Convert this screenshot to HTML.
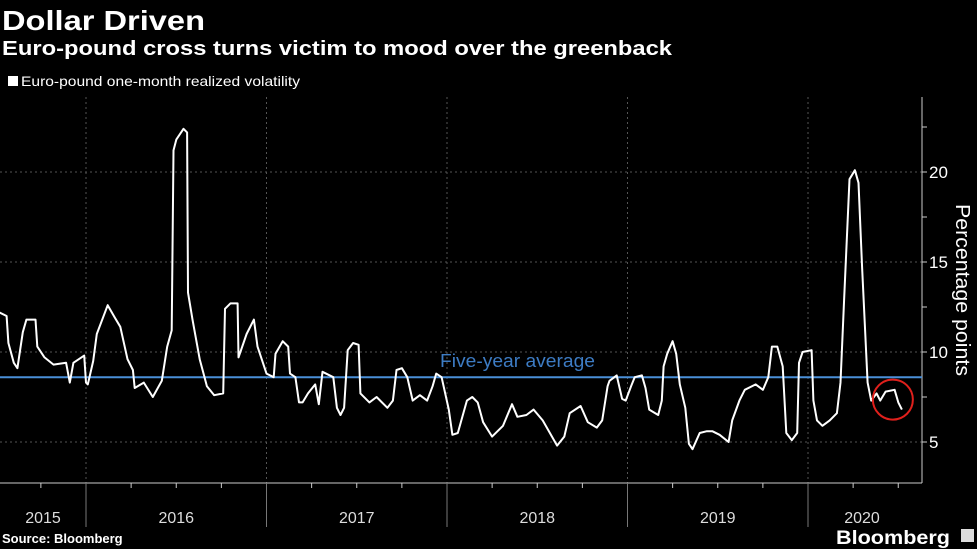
<!DOCTYPE html>
<html><head><meta charset="utf-8"><style>
html,body{margin:0;padding:0;background:#000;}
svg{display:block;font-family:"Liberation Sans","DejaVu Sans",sans-serif;}
</style></head><body>
<svg id="chart" width="977" height="549" viewBox="0 0 977 549" xmlns="http://www.w3.org/2000/svg">
<rect width="977" height="549" fill="#000"/>
<text x="2" y="30" fill="#fff" font-size="28" font-weight="bold" textLength="203" lengthAdjust="spacingAndGlyphs">Dollar Driven</text>
<text x="2" y="55" fill="#fff" font-size="20" font-weight="bold" textLength="670" lengthAdjust="spacingAndGlyphs">Euro-pound cross turns victim to mood over the greenback</text>
<rect x="8" y="76" width="10" height="10" fill="#fff"/>
<text x="21" y="86" fill="#fff" font-size="14" textLength="279" lengthAdjust="spacingAndGlyphs">Euro-pound one-month realized volatility</text>
<g id="grid"></g>
<g id="axes"></g>
<g id="series"></g>
<text transform="translate(956,290) rotate(90)" text-anchor="middle" fill="#fff" font-size="20" textLength="172" lengthAdjust="spacingAndGlyphs">Percentage points</text>
<text x="2" y="543" fill="#fff" font-size="13" font-weight="bold">Source: Bloomberg</text>
<text x="836" y="544" fill="#fff" font-size="19" font-weight="bold" textLength="114" lengthAdjust="spacingAndGlyphs">Bloomberg</text>
<rect x="961" y="529" width="13" height="13" fill="#ddd"/>
</svg>
<script>
const dates=[2015.52,2015.56,2015.57,2015.60,2015.62,2015.65,2015.67,2015.72,2015.73,2015.77,2015.82,2015.89,2015.91,2015.93,2015.99,2016.00,2016.01,2016.04,2016.06,2016.12,2016.16,2016.19,2016.23,2016.26,2016.27,2016.32,2016.37,2016.42,2016.45,2016.475,2016.485,2016.50,2016.54,2016.56,2016.565,2016.59,2016.63,2016.67,2016.71,2016.76,2016.77,2016.80,2016.84,2016.845,2016.89,2016.93,2016.95,2017.00,2017.04,2017.05,2017.09,2017.12,2017.13,2017.16,2017.18,2017.20,2017.23,2017.27,2017.29,2017.31,2017.37,2017.39,2017.41,2017.43,2017.45,2017.48,2017.51,2017.52,2017.57,2017.61,2017.67,2017.70,2017.72,2017.75,2017.78,2017.81,2017.85,2017.89,2017.92,2017.94,2017.97,2018.01,2018.03,2018.06,2018.11,2018.14,2018.17,2018.20,2018.25,2018.31,2018.36,2018.39,2018.44,2018.48,2018.53,2018.57,2018.61,2018.65,2018.68,2018.74,2018.78,2018.83,2018.86,2018.89,2018.90,2018.94,2018.97,2018.99,2019.02,2019.04,2019.08,2019.10,2019.12,2019.17,2019.19,2019.20,2019.22,2019.25,2019.27,2019.29,2019.32,2019.34,2019.36,2019.40,2019.44,2019.47,2019.51,2019.56,2019.58,2019.62,2019.65,2019.71,2019.75,2019.78,2019.80,2019.83,2019.86,2019.88,2019.91,2019.94,2019.95,2019.97,2020.02,2020.03,2020.05,2020.08,2020.12,2020.16,2020.18,2020.20,2020.23,2020.26,2020.28,2020.30,2020.33,2020.35,2020.38,2020.40,2020.43,2020.48,2020.50,2020.52];
const vols=[12.2,12.0,10.5,9.4,9.1,11.1,11.8,11.8,10.3,9.7,9.3,9.4,8.3,9.4,9.8,8.3,8.2,9.5,11.0,12.6,11.9,11.4,9.6,9.0,8.0,8.3,7.5,8.4,10.3,11.2,21.2,21.8,22.4,22.2,13.3,11.8,9.6,8.1,7.6,7.7,12.4,12.7,12.7,9.7,11.0,11.8,10.3,8.8,8.6,9.9,10.6,10.3,8.8,8.6,7.2,7.2,7.7,8.2,7.1,8.9,8.6,6.9,6.5,6.9,10.1,10.5,10.4,7.7,7.2,7.5,6.9,7.3,9.0,9.1,8.6,7.3,7.6,7.3,8.1,8.8,8.6,6.8,5.4,5.5,7.3,7.5,7.2,6.1,5.3,5.9,7.1,6.4,6.5,6.8,6.2,5.5,4.8,5.3,6.6,7.0,6.1,5.8,6.2,8.1,8.4,8.7,7.4,7.3,8.1,8.6,8.7,8.0,6.8,6.5,7.3,9.2,9.9,10.6,9.9,8.2,6.9,4.9,4.6,5.5,5.6,5.6,5.4,5.0,6.2,7.3,7.9,8.2,7.9,8.6,10.3,10.3,9.2,5.5,5.1,5.5,9.4,10.0,10.1,7.3,6.2,5.9,6.2,6.6,8.3,12.9,19.6,20.1,19.4,14.7,8.3,7.3,7.7,7.3,7.8,7.9,7.2,6.8];
const average=[8.6];
const yTicks=[5,10,15,20];
const yearLabels=["2015","2016","2017","2018","2019","2020"];
const yearStarts=[2015,2016,2017,2018,2019,2020];

const NS="http://www.w3.org/2000/svg";
const X0=86, PX=180.5, PLOT_R=922, AXIS_Y=483;
function xScale(t){return X0+(t-2016)*PX;}
function yScale(v){return 172+(20-v)*18;}
function mk(tag,attrs,parent){const e=document.createElementNS(NS,tag);for(const k in attrs)e.setAttribute(k,attrs[k]);parent.appendChild(e);return e;}
const grid=document.getElementById('grid'), axes=document.getElementById('axes'), series=document.getElementById('series');

yTicks.forEach(v=>{
  const l=mk('line',{x1:0,x2:PLOT_R,y1:yScale(v),y2:yScale(v),stroke:'#555','stroke-width':1,'stroke-dasharray':'2,3'},grid);
  
  
  const t=mk('text',{x:929,y:yScale(v)+6,fill:'#fff','font-size':17},axes);
  t.textContent=v;
  
  
});
for(let v=5;v<=22.5;v+=2.5){
  const tk=mk('line',{x1:PLOT_R,x2:PLOT_R+5,y1:yScale(v),y2:yScale(v),stroke:'#ccc','stroke-width':1},axes);
  
  
}
const ya=mk('line',{x1:PLOT_R,x2:PLOT_R,y1:97,y2:AXIS_Y,stroke:'#ccc','stroke-width':1},axes);


const xa=mk('line',{x1:0,x2:PLOT_R,y1:AXIS_Y,y2:AXIS_Y,stroke:'#ccc','stroke-width':1},axes);



yearStarts.forEach((yr,i)=>{
  const x=xScale(yr);
  if(x>0){
    const g=mk('line',{x1:x,x2:x,y1:97,y2:AXIS_Y,stroke:'#555','stroke-width':1,'stroke-dasharray':'2,3'},grid);
    
    
    const d=mk('line',{x1:x,x2:x,y1:AXIS_Y,y2:527,stroke:'#777','stroke-width':1},axes);
    
    
  }
  for(let q=1;q<4;q++){
    const qx=xScale(yr+q/4);
    if(qx>0&&qx<PLOT_R){
      const t=mk('line',{x1:qx,x2:qx,y1:AXIS_Y,y2:AXIS_Y+5,stroke:'#ccc','stroke-width':1},axes);
      
      
    }
  }
  const lx=Math.max(0,x), rx=Math.min(PLOT_R-5,xScale(yr+1));
  const cx = yr===2020 ? 862 : (lx+rx)/2;
  const lab=mk('text',{x:cx,y:523,fill:'#ddd','font-size':16,'text-anchor':'middle'},axes);
  lab.textContent=yearLabels[i];
  
  
});

const avg=mk('line',{x1:0,x2:PLOT_R,y1:yScale(average[0]),y2:yScale(average[0]),stroke:'#4a8fd8','stroke-width':2},series);


const avgT=mk('text',{x:440,y:yScale(average[0])-10,fill:'#3d7cc4','font-size':18,textLength:155,lengthAdjust:'spacingAndGlyphs'},series);
avgT.textContent='Five-year average';



const pts=dates.map((d,i)=>xScale(d).toFixed(1)+','+yScale(vols[i]).toFixed(1)).join(' ');
const pl=mk('polyline',{points:pts,fill:'none',stroke:'#fff','stroke-width':2,'stroke-linejoin':'round'},series);



const lastX=xScale(dates[dates.length-1]), lastY=yScale(vols[vols.length-1]);
const c=mk('circle',{cx:lastX-9,cy:lastY-10,r:20,fill:'none',stroke:'#e0201c','stroke-width':2},series);


</script>
</body></html>
